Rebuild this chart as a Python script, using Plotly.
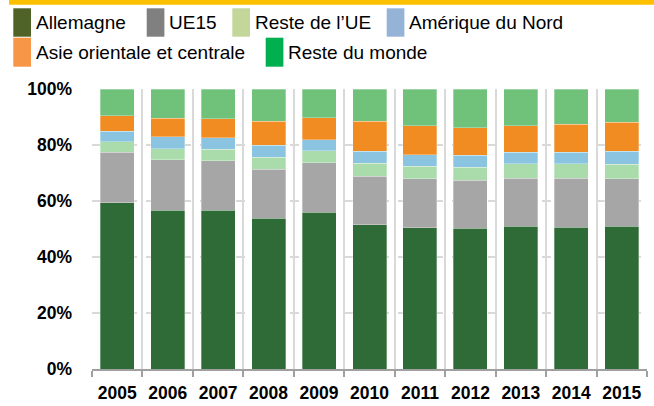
import plotly.graph_objects as go

years = ["2005", "2006", "2007", "2008", "2009", "2010", "2011", "2012", "2013", "2014", "2015"]
allemagne = [59.4, 56.7, 56.7, 53.8, 56.0, 51.6, 50.5, 50.3, 50.9, 50.6, 50.9]
ue15 = [18.1, 18.1, 17.6, 17.6, 17.6, 17.3, 17.4, 17.1, 17.3, 17.6, 17.0]
reste_ue = [3.7, 3.9, 4.2, 4.2, 4.4, 4.6, 4.5, 4.6, 5.1, 5.1, 5.2]
amerique_nord = [3.8, 4.3, 4.1, 4.3, 3.9, 4.3, 4.2, 4.3, 4.2, 4.2, 4.7]
asie = [5.5, 6.5, 6.7, 8.5, 7.9, 10.7, 10.3, 9.9, 9.4, 10.0, 10.3]
reste_monde = [9.5, 10.5, 10.7, 11.6, 10.2, 11.5, 13.1, 13.8, 13.1, 12.5, 11.9]

y_tickvals = [0, 20, 40, 60, 80, 100]
y_ticktext = ["0%", "20%", "40%", "60%", "80%", "100%"]

series_names = ["Allemagne", "UE15", "Reste de l\u2019UE", "Amérique du Nord",
                "Asie orientale et centrale", "Reste du monde"]
series_values = [allemagne, ue15, reste_ue, amerique_nord, asie, reste_monde]
bar_colors = ["#2E6B36", "#A6A6A6", "#A9DBAB", "#8AC4E0", "#F08C21", "#70C27A"]
legend_colors = ["#4F6228", "#808080", "#C4D79B", "#95B3D7", "#F79646", "#00B050"]

FONT = "Liberation Sans, Arial, sans-serif"

fig = go.Figure()
for name, vals, col in zip(series_names, series_values, bar_colors):
    fig.add_trace(go.Bar(x=years, y=vals, name=name, marker_color=col,
                         marker_line=dict(width=0.6, color="rgba(255,255,255,0.5)"),
                         showlegend=False))

W, H = 654, 406
L, R, T, B = 92, 7, 89, 37
pw, ph = W - L - R, H - T - B

def px_x(x):
    return (x - L) / pw

def px_y(y):
    return (H - B - y) / ph

shapes = []
annotations = []
# top orange band
shapes.append(dict(type="rect", xref="paper", yref="paper", x0=px_x(9), x1=px_x(W + 2),
                   y0=px_y(-2), y1=px_y(4.7), fillcolor="#FFC000", line_width=0, layer="above"))
# manual legend (swatch left x, swatch top y, swatch bottom y)
legend_pos = [(13.3, 8.3, 36.7), (146.7, 8.3, 36.7), (232.3, 8.3, 36.7), (386.7, 8.3, 36.7),
              (13.3, 37.7, 66.7), (265.7, 37.7, 66.7)]
for (lx, ly0, ly1), name, col in zip(legend_pos, series_names, legend_colors):
    shapes.append(dict(type="rect", xref="paper", yref="paper", x0=px_x(lx), x1=px_x(lx + 17.7),
                       y0=px_y(ly1), y1=px_y(ly0), fillcolor=col, line_width=0))
    annotations.append(dict(text=name, xref="paper", yref="paper", x=px_x(lx + 20.5),
                            y=px_y((ly0 + ly1) / 2 + 0.5),
                            xanchor="left", yanchor="middle", showarrow=False,
                            font=dict(family=FONT, size=19, color="#000000")))

fig.update_layout(
    width=W, height=H,
    margin=dict(l=L, r=R, t=T, b=B, pad=0, autoexpand=False),
    barmode="stack", bargap=0.326,
    plot_bgcolor="white", paper_bgcolor="white",
    font=dict(family=FONT, color="#000000"),
    shapes=shapes, annotations=annotations,
    showlegend=False,
)
fig.update_xaxes(
    type="category", tickson="boundaries", showgrid=True, gridcolor="#D9D9D9", gridwidth=2,
    ticks="outside", ticklen=6, tickcolor="#A0A0A0", tickwidth=2,
    showline=True, linecolor="#A0A0A0", linewidth=2,
    tickfont=dict(family=FONT, size=17.5, color="#000000", weight="bold"),
    ticklabelstandoff=7, tickangle=0, automargin=False,
)
fig.update_yaxes(
    range=[0, 100], tickmode="array", tickvals=y_tickvals, ticktext=y_ticktext,
    showgrid=True, gridcolor="#D9D9D9", gridwidth=2, griddash="dash",
    zeroline=False, showline=False,
    tickfont=dict(family=FONT, size=17.5, color="#000000", weight="bold"),
    ticklabelstandoff=19, automargin=False,
)

fig.write_html("out.html")
